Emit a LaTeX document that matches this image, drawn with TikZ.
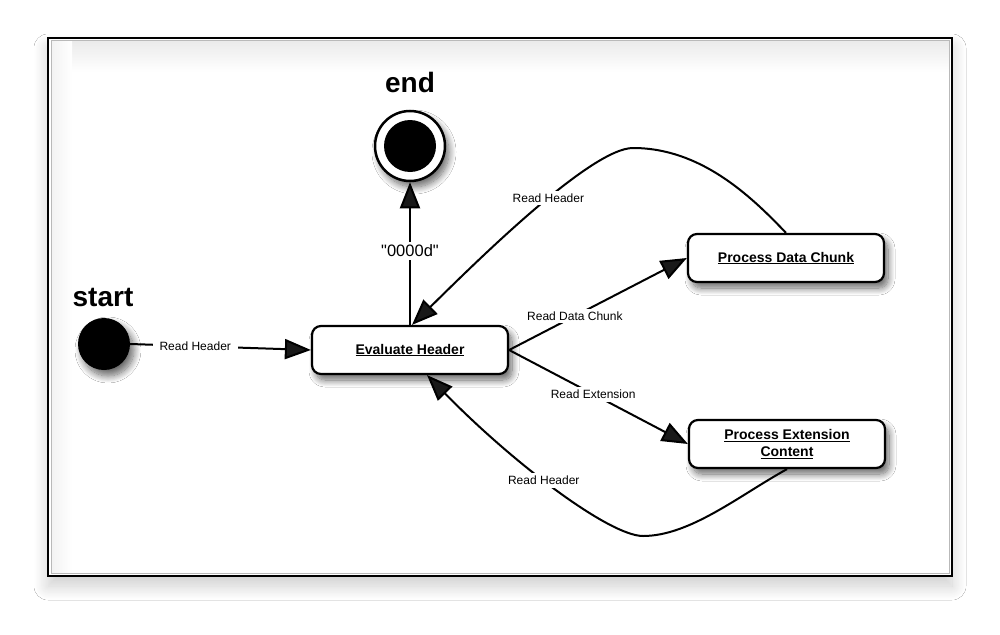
\documentclass[tikz,border=0pt]{standalone}
\usepackage{fontspec}
\setmainfont{Liberation Sans}
\newfontfamily\qfont{Liberation Sans}
\usetikzlibrary{arrows.meta,shadows.blur,calc}
\tikzset{
  bshadow/.style={blur shadow={shadow xshift=4pt, shadow yshift=-6pt, shadow blur radius=7pt, shadow blur steps=12, shadow opacity=60}},
  statebox/.style={draw, line width=2.2pt, rounded corners=9pt, fill=white,
    minimum width=196pt, minimum height=48pt, align=center, inner sep=2pt,
    font=\bfseries\fontsize{14}{17}\selectfont, bshadow},
  conn/.style={line width=2pt, -{Triangle[length=26pt,width=20pt]}},
  elabel/.style={fill=white, inner sep=3pt, font=\fontsize{12}{14}\selectfont},
  bigtitle/.style={font=\bfseries\fontsize{28}{32}\selectfont},
}
\begin{document}
\begin{tikzpicture}[x=1pt,y=-1pt]
\useasboundingbox (0,0) rectangle (1000,634);
\fill[white] (0,0) rectangle (1000,634);
% frame
\path[fill=white, blur shadow={shadow xshift=0pt, shadow yshift=-10pt, shadow blur radius=14pt, shadow blur steps=16, shadow opacity=20}] (48,38) rectangle (952,576);
\shade[top color=gray!16, bottom color=white] (51,41) rectangle (949,72);
\shade[left color=gray!10, right color=white] (51,41) rectangle (72,573);
\draw[gray!55, line width=1pt] (51,41) rectangle (949,573);
\draw[line width=2pt] (48,38) rectangle (952,576);

% nodes
\node[circle, fill=black, minimum size=52pt, inner sep=0pt, bshadow] (s) at (104,344) {};
\node[bigtitle] (st) at (103,297) {start};
\node[circle, draw, fill=white, line width=2.5pt, minimum size=70pt, inner sep=0pt, bshadow] (e) at (410,146) {};
\node[circle, fill=black, minimum size=52pt, inner sep=0pt] (ei) at (410,146) {};
\node[bigtitle] (et) at (410,82) {end};
\node[statebox] (eh) at (410,350) {\underline{Evaluate Header}};
\node[statebox] (pd) at (786,258) {\underline{Process Data Chunk}};
\node[statebox] (pe) at (787,444) {\underline{Process Extension}\\\underline{Content}};

% connectors
\draw[conn] (s.east) -- node[elabel, pos=0.36, inner xsep=7pt] {Read Header} (eh.west);
\draw[conn] (eh.north) -- node[elabel, pos=0.52, font=\qfont\fontsize{16.5}{18}\selectfont] {"0000d"} (e.south);
\draw[conn] (eh.east) -- node[elabel, pos=0.37] {Read Data Chunk} (pd.west);
\draw[conn] (eh.east) -- node[elabel, pos=0.47] {Read Extension} (pe.west);
\draw[conn] (pd.north) .. controls (750,195) and (700,148) .. (633,148)
  .. controls (590,148) and (470,268) .. node[elabel, pos=0.42] {Read Header} ([xshift=2pt]eh.north);
\draw[conn] (pe.south) .. controls (740,495) and (690,536) .. (643,536)
  .. controls (610,536) and (515,465) .. node[elabel, pos=0.55] {Read Header} ([xshift=17pt]eh.south);
\end{tikzpicture}
\end{document}
